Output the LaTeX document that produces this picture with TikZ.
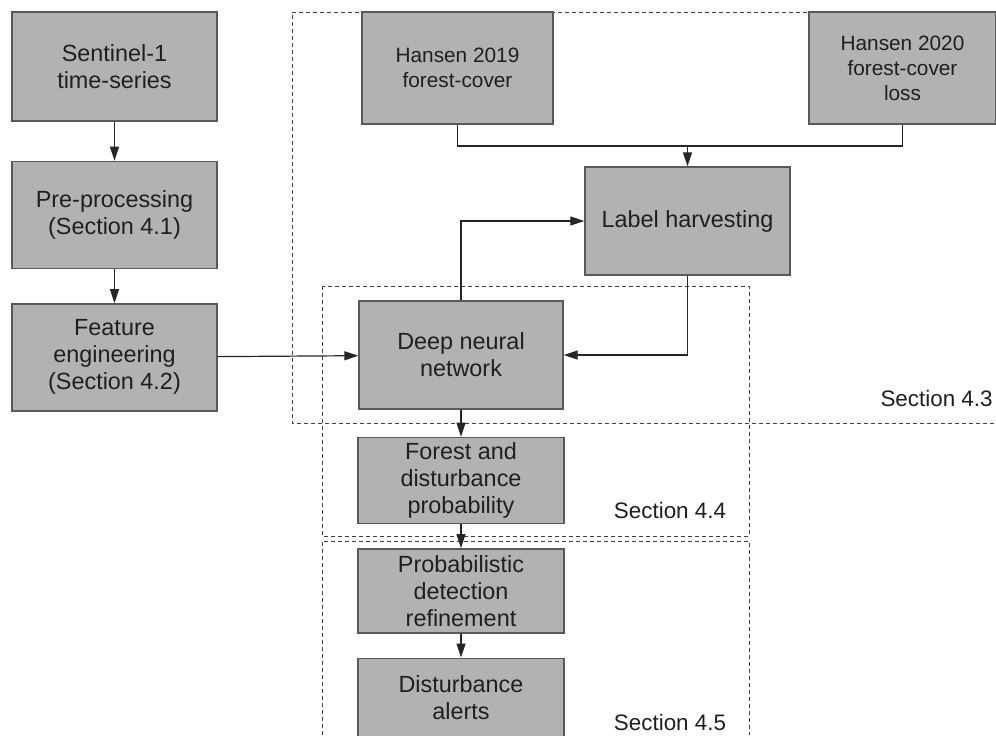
\documentclass[tikz,border=0pt]{standalone}
\usepackage{fontspec}
\setmainfont{Liberation Sans}
\usetikzlibrary{positioning,arrows.meta}

\begin{document}
\begin{tikzpicture}[x=0.5pt, y=-0.5pt,
    blk/.style={draw=black!65, line width=0.7pt, fill=black!30, align=center, inner sep=0pt, text=black!88, font=\fontsize{11.7}{13.5}\selectfont},
    hblk/.style={blk, font=\fontsize{10.4}{12.5}\selectfont},
    line/.style={draw=black!85, line width=0.6pt},
    link/.style={line, -{Triangle[length=7pt, width=4.5pt]}},
    sect/.style={draw=black!75, line width=0.5pt, dash pattern=on 2pt off 1.5pt},
    lbl/.style={text=black!88, font=\fontsize{11.2}{13}\selectfont, inner sep=0pt}]
    \useasboundingbox (0,0) rectangle (996,735);
    % dashed section frames
    \draw[sect] (996,12) -- (292,12) -- (292,423) -- (996,423);
    \draw[sect] (322,286) rectangle (749,536);
    \draw[sect] (322,735) -- (322,541) -- (749,541) -- (749,735);
    % left column
    \node[blk, minimum width=102.5pt, minimum height=54.5pt] (s1) at (114.5,66.5) {Sentinel-1\\time-series};
    \node[blk, minimum width=102.5pt, minimum height=53.5pt, below=19.5pt of s1] (pre) {Pre-processing\\(Section 4.1)};
    \node[blk, minimum width=102.5pt, minimum height=53.5pt, below=17pt of pre] (feat) {Feature\\engineering\\(Section 4.2)};
    % labels
    \node[hblk, minimum width=95.5pt, minimum height=56pt] (h19) at (457.5,68) {Hansen 2019\\forest-cover};
    \node[hblk, minimum width=93.5pt, minimum height=56pt] (h20) at (902.5,68) {Hansen 2020\\forest-cover\\loss};
    \node[blk, minimum width=102.5pt, minimum height=54pt] (lab) at (687.5,221) {Label harvesting};
    % model and outputs
    \node[blk, minimum width=102pt, minimum height=54pt] (dnn) at (461,355) {Deep neural\\network};
    \node[blk, minimum width=103pt, minimum height=43pt, below=13.5pt of dnn] (prob) {Forest and\\disturbance\\probability};
    \node[blk, minimum width=103pt, minimum height=42pt, below=12pt of prob] (refine) {Probabilistic\\detection\\refinement};
    \node[blk, minimum width=103pt, minimum height=39.5pt, below=12pt of refine] (alerts) {Disturbance\\alerts};
    % section names
    \node[lbl, anchor=east] (sec3) at (993,398) {Section 4.3};
    \node[lbl] (sec4) at (670,510) {Section 4.4};
    \node[lbl] (sec5) at (670,722) {Section 4.5};
    % connectors
    \coordinate (hj) at (687.5,146);
    \draw[link] (s1) -- (pre);
    \draw[link] (pre) -- (feat);
    \draw[link] (feat) -- (dnn);
    \draw[line] (h19.south) |- (hj) -| (h20.south);
    \draw[link] (hj) -- (lab.north);
    \draw[link] (dnn.north) |- (lab.west);
    \draw[link] (lab.south) |- (dnn.east);
    \draw[link] (dnn.south) -- (dnn.south |- prob.north);
    \draw[link] (prob.south) -- (prob.south |- refine.north);
    \draw[link] (refine) -- (alerts);
\end{tikzpicture}
\end{document}
